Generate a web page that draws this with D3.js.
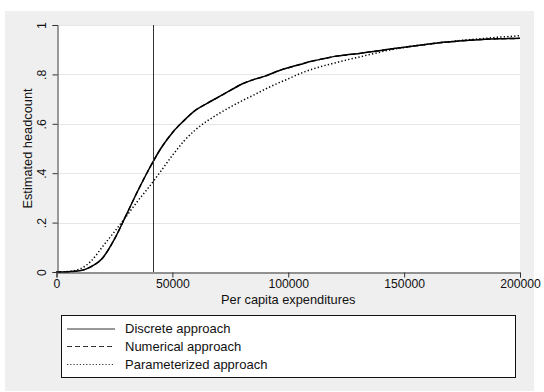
<!DOCTYPE html>
<html>
<head>
<meta charset="utf-8">
<script src="https://cdn.jsdelivr.net/npm/d3@7"></script>
<style>
  html, body { margin: 0; padding: 0; background: #ffffff; }
  svg { display: block; font-family: "Liberation Sans", Arial, Helvetica, sans-serif; }
</style>
</head>
<body>
<svg id="chart" width="544" height="392"></svg>
<script>
// Per capita expenditure grid (x values) shared by all three estimates
const expenditures = [0, 5000, 10000, 15000, 20000, 25000, 30000, 35000, 40000, 45000,
  50000, 55000, 60000, 65000, 70000, 75000, 80000, 85000, 90000, 95000,
  100000, 105000, 110000, 115000, 120000, 125000, 130000, 135000, 140000, 145000,
  150000, 155000, 160000, 165000, 170000, 175000, 180000, 185000, 190000, 195000, 200000];

// Estimated headcount for each approach
const discrete = [0, 0.001, 0.005, 0.022, 0.058, 0.133, 0.229, 0.327, 0.418, 0.500,
  0.564, 0.613, 0.655, 0.683, 0.709, 0.735, 0.761, 0.779, 0.793, 0.812,
  0.827, 0.840, 0.853, 0.863, 0.873, 0.879, 0.884, 0.891, 0.897, 0.904,
  0.910, 0.916, 0.922, 0.928, 0.932, 0.936, 0.939, 0.942, 0.944, 0.945, 0.946];

const numerical = [0, 0.001, 0.005, 0.022, 0.058, 0.133, 0.229, 0.327, 0.418, 0.500,
  0.564, 0.613, 0.655, 0.683, 0.709, 0.735, 0.761, 0.779, 0.793, 0.812,
  0.827, 0.840, 0.853, 0.863, 0.873, 0.879, 0.884, 0.891, 0.897, 0.904,
  0.910, 0.916, 0.922, 0.928, 0.932, 0.936, 0.939, 0.942, 0.944, 0.945, 0.946];

const parameterized = [0, 0.002, 0.012, 0.045, 0.104, 0.163, 0.224, 0.287, 0.345, 0.408,
  0.472, 0.530, 0.576, 0.611, 0.641, 0.668, 0.693, 0.716, 0.740, 0.762,
  0.782, 0.803, 0.820, 0.834, 0.846, 0.858, 0.869, 0.880, 0.891, 0.901,
  0.909, 0.916, 0.922, 0.928, 0.933, 0.938, 0.942, 0.946, 0.950, 0.953, 0.957];

// Poverty line marked by a vertical rule
const povertyLine = 41500;

const xTicks = [0, 50000, 100000, 150000, 200000];
const yTicks = [0, 0.2, 0.4, 0.6, 0.8, 1];
const yTickLabels = ["0", ".2", ".4", ".6", ".8", "1"];

const seriesNames = ["Discrete approach", "Numerical approach", "Parameterized approach"];

const svg = d3.select("#chart");

// outer panel
svg.append("rect").attr("x", 5).attr("y", 11).attr("width", 529).attr("height", 380)
  .attr("fill", "#efefef");

const x = d3.scaleLinear().domain([0, 200000]).range([56.5, 520]);
const y = d3.scaleLinear().domain([0, 1]).range([272, 25]);

// plot region
svg.append("rect").attr("x", 57).attr("y", 25).attr("width", 463).attr("height", 247)
  .attr("fill", "#ffffff");

// horizontal grid
svg.append("g").selectAll("line").data(yTicks.filter(d => d > 0)).join("line")
  .attr("x1", 57).attr("x2", 520)
  .attr("y1", d => Math.round(y(d)) + 0.5).attr("y2", d => Math.round(y(d)) + 0.5)
  .attr("stroke", "#e6e6e6").attr("stroke-width", 1);

// series
const pts = vals => expenditures.map((e, i) => [e, vals[i]]);
const line = d3.line().x(d => x(d[0])).y(d => y(d[1])).curve(d3.curveMonotoneX);

const plot = svg.append("g");
plot.append("path").datum(pts(parameterized)).attr("d", line)
  .attr("fill", "none").attr("stroke", "#000").attr("stroke-width", 1.5)
  .attr("stroke-dasharray", "1.3,2.2");
plot.append("path").datum(pts(numerical)).attr("d", line)
  .attr("fill", "none").attr("stroke", "#111").attr("stroke-width", 1.4)
  .attr("stroke-dasharray", "5,3");
plot.append("path").datum(pts(discrete)).attr("d", line)
  .attr("fill", "none").attr("stroke", "#000").attr("stroke-width", 1.5);

// vertical reference line
svg.append("line")
  .attr("x1", Math.round(x(povertyLine)) + 0.5).attr("x2", Math.round(x(povertyLine)) + 0.5)
  .attr("y1", 25).attr("y2", 272)
  .attr("stroke", "#333").attr("stroke-width", 1);

// x axis
const xAxis = d3.axisBottom(x).tickValues(xTicks).tickSize(5).tickPadding(2)
  .tickFormat(d3.format("d"));
const gx = svg.append("g").attr("transform", "translate(0,272.5)").call(xAxis);
gx.select(".domain").attr("stroke", "#333");
gx.selectAll(".tick line").attr("stroke", "#333");
gx.selectAll(".tick text").attr("font-size", 12.2).attr("fill", "#111")
  .attr("font-family", "Liberation Sans, Arial, sans-serif");

// y axis with rotated labels
const yAxis = d3.axisLeft(y).tickValues(yTicks).tickSize(5)
  .tickFormat((d, i) => yTickLabels[i]);
const gy = svg.append("g").attr("transform", "translate(57.5,0)").call(yAxis);
gy.select(".domain").attr("stroke", "#333");
gy.selectAll(".tick line").attr("stroke", "#333");
gy.selectAll(".tick text")
  .attr("x", null).attr("dy", null)
  .attr("font-size", 12.2).attr("fill", "#111")
  .attr("font-family", "Liberation Sans, Arial, sans-serif")
  .attr("text-anchor", "middle")
  .attr("transform", "translate(-12,0) rotate(-90)");

// axis titles
svg.append("text").attr("x", x(100000)).attr("y", 304)
  .attr("text-anchor", "middle").attr("font-size", 12.8).attr("fill", "#111")
  .text("Per capita expenditures");
svg.append("text").attr("transform", "translate(32,148.5) rotate(-90)")
  .attr("text-anchor", "middle").attr("font-size", 12.8).attr("fill", "#111")
  .text("Estimated headcount");

// legend
const lg = svg.append("g");
lg.append("rect").attr("x", 61.5).attr("y", 315.5).attr("width", 454).attr("height", 62)
  .attr("fill", "#fff").attr("stroke", "#111").attr("stroke-width", 1);
const dashes = [null, "5,3", "1.2,2"];
const rowY = [329, 346.5, 364.5];
seriesNames.forEach((name, i) => {
  lg.append("line").attr("x1", 67).attr("x2", 115).attr("y1", rowY[i]).attr("y2", rowY[i])
    .attr("stroke", "#333").attr("stroke-width", 1.2)
    .attr("stroke-dasharray", dashes[i]);
  lg.append("text").attr("x", 125).attr("y", rowY[i] + 4.3)
    .attr("font-size", 13).attr("fill", "#111").text(name);
});
</script>
</body>
</html>
